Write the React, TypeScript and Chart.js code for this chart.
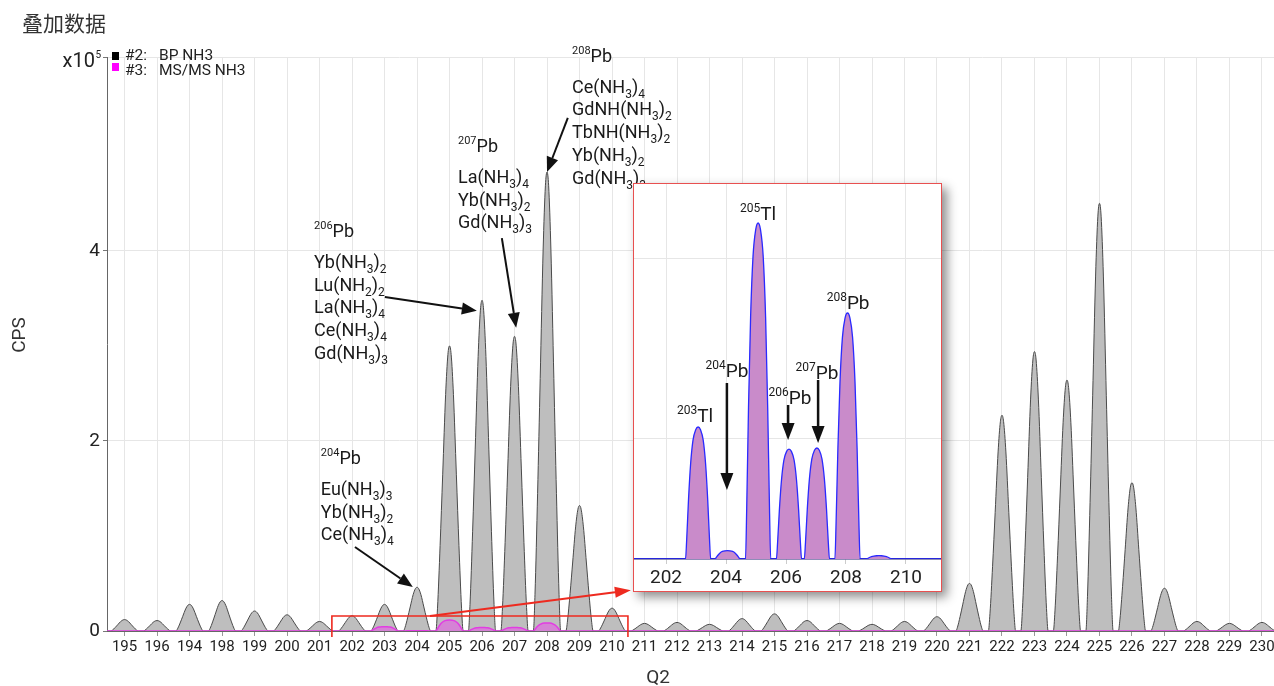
import { useEffect, useRef } from 'react';
import { Chart, registerables } from 'chart.js';

Chart.register(...registerables);

// ---------- data ----------
const q2Ticks = [195, 196, 197, 198, 199, 200, 201, 202, 203, 204, 205, 206, 207, 208, 209, 210, 211, 212, 213, 214, 215, 216, 217, 218, 219, 220, 221, 222, 223, 224, 225, 226, 227, 228, 229, 230];
const q2TickLabels = ['195', '196', '194', '198', '199', '200', '201', '202', '203', '204', '205', '206', '207', '208', '209', '210', '211', '212', '213', '214', '215', '216', '217', '218', '219', '220', '221', '222', '223', '224', '225', '226', '227', '228', '229', '230'];
// #2: BP NH3 peak heights (x10^5 CPS), one per Q2 tick position
const bpPeakHeights = [0.12, 0.11, 0.28, 0.32, 0.21, 0.17, 0.1, 0.16, 0.28, 0.46, 3.0, 3.48, 3.1, 4.83, 1.32, 0.24, 0.08, 0.09, 0.07, 0.13, 0.18, 0.11, 0.08, 0.07, 0.1, 0.15, 0.5, 2.27, 2.94, 2.64, 4.5, 1.56, 0.45, 0.1, 0.08, 0.09];
// #3: MS/MS NH3 peaks (x10^5 CPS)
const msmsPeakPositions = [203, 204, 205, 206, 207, 208];
const msmsPeakHeights = [0.046, 0.003, 0.116, 0.038, 0.038, 0.085];
// inset (zoomed MS/MS) peaks
const insetPeakPositions = [203.07, 204.05, 205.07, 206.1, 207.03, 208.05, 209.1];
const insetPeakHeights = [2200, 140, 5600, 1830, 1850, 4100, 55];
const insetTicks = [202, 204, 206, 208, 210];
const insetGridValues = [2000, 5000];
const yTickValues = [0, 2, 4];
// peak profile shapes (offset from centre, fraction of height)
const sharpShapeOffsets = [-0.42, -0.37, -0.29, -0.21, -0.12, -0.05, 0, 0.05, 0.12, 0.21, 0.29, 0.37, 0.42];
const sharpShapeFractions = [0, 0.08, 0.3, 0.55, 0.83, 0.97, 1, 0.97, 0.83, 0.55, 0.3, 0.08, 0];
const roundShapeOffsets = [-0.42, -0.38, -0.32, -0.25, -0.17, -0.08, 0, 0.08, 0.17, 0.25, 0.32, 0.38, 0.42];
const roundShapeFractions = [0, 0.15, 0.45, 0.72, 0.9, 0.98, 1, 0.98, 0.9, 0.72, 0.45, 0.15, 0];

// ---------- axis ranges ----------
const X_MIN = 194.46;
const X_MAX = 230.37;
const Y_MAX = 6.04;
const INSET_X_MIN = 200.933;
const INSET_X_MAX = 211.167;
const INSET_Y_MAX = 6250;

// ---------- annotations (data coordinates) ----------
const mainNotes = [
  { x: 208.77, y: 5.99, head: '^{208}Pb', lines: ['Ce(NH_{3})_{4}', 'GdNH(NH_{3})_{2}', 'TbNH(NH_{3})_{2}', 'Yb(NH_{3})_{2}', 'Gd(NH_{3})_{3}'], from: [208.64, 5.4], to: [208.0, 4.83] },
  { x: 205.26, y: 5.04, head: '^{207}Pb', lines: ['La(NH_{3})_{4}', 'Yb(NH_{3})_{2}', 'Gd(NH_{3})_{3}'], from: [206.61, 4.135], to: [207.05, 3.19] },
  { x: 200.83, y: 4.146, head: '^{206}Pb', lines: ['Yb(NH_{3})_{2}', 'Lu(NH_{2})_{2}', 'La(NH_{3})_{4}', 'Ce(NH_{3})_{4}', 'Gd(NH_{3})_{3}'], from: [203.01, 3.515], to: [205.84, 3.37] },
  { x: 201.04, y: 1.757, head: '^{204}Pb', lines: ['Eu(NH_{3})_{3}', 'Yb(NH_{3})_{2}', 'Ce(NH_{3})_{4}'], from: [202.09, 0.884], to: [203.87, 0.463] },
];
const insetNotes = [
  { x: 202.97, y: 2283, text: '^{203}Tl' },
  { x: 205.07, y: 5650, text: '^{205}Tl' },
  { x: 208.07, y: 4167, text: '^{208}Pb' },
  { x: 204.03, y: 3033, text: '^{204}Pb', ax: 204.03, from: 2933, to: 1150 },
  { x: 206.13, y: 2583, text: '^{206}Pb', ax: 206.07, from: 2567, to: 1983 },
  { x: 207.03, y: 3000, text: '^{207}Pb', ax: 207.07, from: 2983, to: 1933 },
];
const legendIds = ['#2:', '#3:'];
const legendNames = ['BP NH3', 'MS/MS NH3'];
const legendColors = ['#000000', '#ff00ff'];
const redBox = { x0: 201.38, x1: 210.49, y: 0.158 };
const redArrow = { from: [204.4, 0.158], to: [210.58, 0.43] };

const FONT = 'Roboto, "Noto Sans", sans-serif';

function buildProfile(centers: number[], heights: number[], offs: number[], fracs: number[], xmin: number, xmax: number) {
  const pts: { x: number; y: number }[] = [{ x: xmin, y: 0 }];
  centers.forEach((c, i) => {
    offs.forEach((o, j) => pts.push({ x: c + o, y: heights[i] * fracs[j] }));
  });
  pts.push({ x: xmax, y: 0 });
  return pts;
}

type Seg = { t: string; k: 'n' | 'sub' | 'sup' };
function parseRich(s: string): Seg[] {
  const out: Seg[] = [];
  let i = 0;
  let buf = '';
  while (i < s.length) {
    const c = s[i];
    if ((c === '_' || c === '^') && s[i + 1] === '{') {
      if (buf) { out.push({ t: buf, k: 'n' }); buf = ''; }
      const end = s.indexOf('}', i);
      out.push({ t: s.slice(i + 2, end), k: c === '_' ? 'sub' : 'sup' });
      i = end + 1;
    } else { buf += c; i++; }
  }
  if (buf) out.push({ t: buf, k: 'n' });
  return out;
}

function drawRich(ctx: CanvasRenderingContext2D, s: string, x: number, y: number, size: number, small: number, align: 'left' | 'center', color: string) {
  const segs = parseRich(s);
  ctx.save();
  ctx.fillStyle = color;
  ctx.textAlign = 'left';
  ctx.textBaseline = 'alphabetic';
  const widths = segs.map((sg) => {
    ctx.font = `${sg.k === 'n' ? size : small}px ${FONT}`;
    return ctx.measureText(sg.t).width;
  });
  const total = widths.reduce((a, b) => a + b, 0);
  let cx = align === 'center' ? x - total / 2 : x;
  segs.forEach((sg, i) => {
    ctx.font = `${sg.k === 'n' ? size : small}px ${FONT}`;
    const dy = sg.k === 'sub' ? size * 0.28 : sg.k === 'sup' ? -size * 0.42 : 0;
    ctx.fillText(sg.t, cx, y + dy);
    cx += widths[i];
  });
  ctx.restore();
}

function drawArrow(ctx: CanvasRenderingContext2D, x1: number, y1: number, x2: number, y2: number, color: string, lw: number, hl: number, hw: number) {
  const a = Math.atan2(y2 - y1, x2 - x1);
  const bx = x2 - hl * Math.cos(a);
  const by = y2 - hl * Math.sin(a);
  ctx.save();
  ctx.strokeStyle = color;
  ctx.fillStyle = color;
  ctx.lineWidth = lw;
  ctx.beginPath();
  ctx.moveTo(x1, y1);
  ctx.lineTo(bx, by);
  ctx.stroke();
  ctx.beginPath();
  ctx.moveTo(x2, y2);
  ctx.lineTo(bx - (hw / 2) * Math.sin(a), by + (hw / 2) * Math.cos(a));
  ctx.lineTo(bx + (hw / 2) * Math.sin(a), by - (hw / 2) * Math.cos(a));
  ctx.closePath();
  ctx.fill();
  ctx.restore();
}

const mainDecor = {
  id: 'mainDecor',
  afterDraw(chart: any) {
    const ctx: CanvasRenderingContext2D = chart.ctx;
    const xs = chart.scales.x;
    const ys = chart.scales.y;
    const X = (v: number) => xs.getPixelForValue(v);
    const Y = (v: number) => ys.getPixelForValue(v);
    const area = chart.chartArea;
    ctx.save();
    // title
    ctx.fillStyle = '#333';
    ctx.font = `21px "Noto Sans CJK SC", ${FONT}`;
    ctx.textBaseline = 'middle';
    ctx.textAlign = 'left';
    ctx.fillText('叠加数据', 22, 23);
    // legend
    ctx.textBaseline = 'alphabetic';
    ctx.font = `15.5px ${FONT}`;
    legendIds.forEach((id, i) => {
      ctx.fillStyle = legendColors[i];
      ctx.fillRect(112, 52 + i * 11, 7, 8);
      ctx.fillStyle = '#222';
      ctx.fillText(id, 125, 60 + i * 15);
      ctx.fillText(legendNames[i], 159, 60 + i * 15);
    });
    // x10^5
    ctx.fillStyle = '#222';
    ctx.textAlign = 'right';
    ctx.font = `10px ${FONT}`;
    ctx.fillText('5', 101, 58);
    ctx.font = `20px ${FONT}`;
    ctx.fillText('x10', 95, 67);
    // axis titles
    ctx.fillStyle = '#333';
    ctx.font = `19px ${FONT}`;
    ctx.textAlign = 'center';
    ctx.fillText('Q2', 658, 683);
    ctx.save();
    ctx.translate(25, 335);
    ctx.rotate(-Math.PI / 2);
    ctx.fillText('CPS', 0, 0);
    ctx.restore();
    ctx.restore();

    // annotations
    mainNotes.forEach((n) => {
      const lx = X(n.x);
      const by = Y(n.y);
      drawRich(ctx, n.head, lx, by, 18, 11, 'left', '#1a1a1a');
      n.lines.forEach((ln, i) => drawRich(ctx, ln, lx, by + 31 + i * 22.7, 18, 12, 'left', '#1a1a1a'));
      drawArrow(ctx, X(n.from[0]), Y(n.from[1]), X(n.to[0]), Y(n.to[1]), '#111', 2, 15, 12);
    });

    // red highlight box + arrow
    ctx.save();
    ctx.strokeStyle = '#ee2a1f';
    ctx.lineWidth = 1.6;
    ctx.beginPath();
    ctx.moveTo(X(redBox.x0), area.bottom + 6);
    ctx.lineTo(X(redBox.x0), Y(redBox.y));
    ctx.lineTo(X(redBox.x1), Y(redBox.y));
    ctx.lineTo(X(redBox.x1), area.bottom + 6);
    ctx.stroke();
    ctx.restore();
    drawArrow(ctx, X(redArrow.from[0]), Y(redArrow.from[1]), X(redArrow.to[0]), Y(redArrow.to[1]), '#ee2a1f', 2, 16, 11);
  },
};

const insetDecor = {
  id: 'insetDecor',
  afterDraw(chart: any) {
    const ctx: CanvasRenderingContext2D = chart.ctx;
    const X = (v: number) => chart.scales.x.getPixelForValue(v);
    const Y = (v: number) => chart.scales.y.getPixelForValue(v);
    insetNotes.forEach((n: any) => {
      drawRich(ctx, n.text, X(n.x), Y(n.y), 19, 12, 'center', '#1a1a1a');
      if (n.ax !== undefined) {
        drawArrow(ctx, X(n.ax), Y(n.from), X(n.ax), Y(n.to), '#111', 2.5, 17, 13);
      }
    });
  },
};

export default function App() {
  const mainRef = useRef<HTMLCanvasElement>(null);
  const insetRef = useRef<HTMLCanvasElement>(null);

  useEffect(() => {
    const bpData = buildProfile(q2Ticks, bpPeakHeights, sharpShapeOffsets, sharpShapeFractions, X_MIN, X_MAX);
    const msData = buildProfile(msmsPeakPositions, msmsPeakHeights, roundShapeOffsets, roundShapeFractions, X_MIN, X_MAX);
    const insetData = buildProfile(insetPeakPositions, insetPeakHeights, roundShapeOffsets, roundShapeFractions, INSET_X_MIN, INSET_X_MAX);

    const main = new Chart(mainRef.current as HTMLCanvasElement, {
      type: 'line',
      data: {
        datasets: [
          {
            label: '#3: MS/MS NH3',
            data: msData,
            borderColor: '#e23de2',
            backgroundColor: 'rgba(236,70,236,0.5)',
            borderWidth: 1.5,
            fill: 'origin',
            pointRadius: 0,
            cubicInterpolationMode: 'monotone',
            order: 0,
          },
          {
            label: '#2: BP NH3',
            data: bpData,
            borderColor: '#4a4a4a',
            backgroundColor: '#bebebe',
            borderWidth: 1,
            fill: 'origin',
            pointRadius: 0,
            cubicInterpolationMode: 'monotone',
            order: 1,
          },
        ],
      } as any,
      options: {
        animation: false,
        responsive: false,
        devicePixelRatio: 1,
        layout: { padding: { top: 57, left: 0, right: 0, bottom: 0 } },
        plugins: { legend: { display: false }, tooltip: { enabled: false }, title: { display: false } },
        scales: {
          x: {
            type: 'linear',
            min: X_MIN,
            max: X_MAX,
            afterBuildTicks: (s: any) => { s.ticks = q2Ticks.map((v) => ({ value: v })); },
            afterFit: (s: any) => { s.height = 55; s.paddingLeft = 0; s.paddingRight = 0; },
            ticks: {
              autoSkip: false,
              maxRotation: 0,
              padding: 2,
              color: '#222',
              font: { family: FONT, size: 15 },
              callback: (v: any) => { const i = q2Ticks.indexOf(Number(v)); return i >= 0 ? q2TickLabels[i] : ''; },
            },
            grid: { color: '#e6e6e6', tickLength: 5, tickColor: '#999' },
            border: { color: '#666' },
          },
          y: {
            type: 'linear',
            min: 0,
            max: Y_MAX,
            afterBuildTicks: (s: any) => { s.ticks = [...yTickValues, Y_MAX].map((v) => ({ value: v })); },
            afterFit: (s: any) => { s.width = 107; s.paddingTop = 0; s.paddingBottom = 0; },
            ticks: {
              padding: 3,
              color: '#222',
              font: { family: FONT, size: 19 },
              callback: (v: any) => (Number(v) === Y_MAX ? '' : String(v)),
            },
            grid: { color: '#e6e6e6', tickLength: 4, tickColor: '#777' },
            border: { color: '#666' },
          },
        },
      } as any,
      plugins: [mainDecor],
    });

    const inset = new Chart(insetRef.current as HTMLCanvasElement, {
      type: 'line',
      data: {
        datasets: [
          {
            label: 'MS/MS zoom',
            data: insetData,
            borderColor: '#2a2aff',
            backgroundColor: '#c98bca',
            borderWidth: 1.3,
            fill: 'origin',
            pointRadius: 0,
            cubicInterpolationMode: 'monotone',
          },
        ],
      } as any,
      options: {
        animation: false,
        responsive: false,
        devicePixelRatio: 1,
        layout: { padding: 0 },
        plugins: { legend: { display: false }, tooltip: { enabled: false } },
        scales: {
          x: {
            type: 'linear',
            min: INSET_X_MIN,
            max: INSET_X_MAX,
            afterBuildTicks: (s: any) => { s.ticks = insetTicks.map((v) => ({ value: v })); },
            afterFit: (s: any) => { s.height = 32; s.paddingLeft = 0; s.paddingRight = 0; },
            ticks: { autoSkip: false, maxRotation: 0, padding: 3, color: '#222', font: { family: FONT, size: 19 } },
            grid: { color: '#e6e6e6', tickLength: 5, tickColor: '#ccc' },
            border: { color: '#1c1c70', width: 1.5 },
          },
          y: {
            type: 'linear',
            min: 0,
            max: INSET_Y_MAX,
            afterBuildTicks: (s: any) => { s.ticks = insetGridValues.map((v) => ({ value: v })); },
            afterFit: (s: any) => { s.width = 0; s.paddingTop = 0; s.paddingBottom = 0; },
            ticks: { display: false },
            grid: { color: '#e6e6e6', drawTicks: false },
            border: { display: false },
          },
        },
      } as any,
      plugins: [insetDecor],
    });

    return () => {
      main.destroy();
      inset.destroy();
    };
  }, []);

  return (
    <div style={{ position: 'fixed', left: 0, top: 0, width: 1274, height: 686, background: '#fff', overflow: 'hidden' }}>
      <canvas ref={mainRef} width={1274} height={686} style={{ position: 'absolute', left: 0, top: 0 }} />
      <div
        style={{
          position: 'absolute',
          left: 633,
          top: 183,
          width: 307,
          height: 407,
          border: '1px solid #e85050',
          background: '#fff',
          boxShadow: '5px 5px 10px rgba(0,0,0,0.45)',
        }}
      >
        <canvas ref={insetRef} width={307} height={407} style={{ display: 'block' }} />
      </div>
    </div>
  );
}
